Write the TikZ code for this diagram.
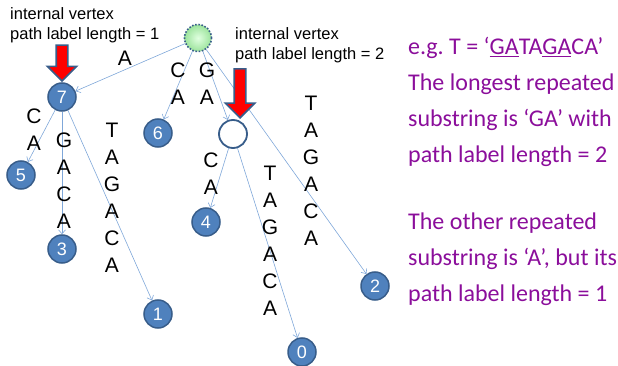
\documentclass[tikz,border=0pt]{standalone}
\usepackage{fontspec}
\setmainfont{Liberation Sans}
\newfontfamily\calibri{Carlito}
\usetikzlibrary{arrows.meta,shapes.arrows,positioning}
\definecolor{leafblue}{HTML}{4F81BD}
\definecolor{leafedge}{HTML}{385D8A}
\definecolor{edgeblue}{HTML}{7FA7D9}
\definecolor{notepurple}{HTML}{8B0E9B}
\definecolor{rootgreen}{HTML}{9BE39B}

\tikzset{
  leaf/.style={circle, fill=leafblue, draw=leafedge, line width=1.5pt,
    minimum size=28pt, inner sep=0pt, text=white, font=\fontsize{18}{18}\selectfont},
  inner vertex/.style={circle, fill=white, draw=leafedge, line width=1.8pt,
    minimum size=28pt, inner sep=0pt},
  root vertex/.style={circle, inner color=green!12, outer color=rootgreen,
    draw=leafedge, line width=1.6pt, dash pattern=on 1.6pt off 1.6pt,
    minimum size=27pt, inner sep=0pt},
  tree edge/.style={draw=edgeblue, line width=0.6pt,
    -{Straight Barb[length=4pt,width=7pt]}},
  letters/.style={align=center, inner sep=0pt, font=\fontsize{21}{27}\selectfont},
  pointer/.style={single arrow, fill=red, draw=leafedge, line width=1.6pt,
    inner sep=5pt, single arrow head extend=9pt, rotate=-90, anchor=tip},
  note/.style={align=left, anchor=west, inner sep=0pt, font=\fontsize{16.5}{20}\selectfont},
  remark/.style={align=left, anchor=north west, inner sep=0pt, text=notepurple,
    font=\calibri\fontsize{24}{36}\selectfont}
}

\begin{document}
\begin{tikzpicture}[x=1pt, y=-1pt]
\useasboundingbox (0,0) rectangle (618,366);

% vertices
\node[root vertex] (root) at (198,38) {};
\node[leaf] (v7) at (62,97) {7};
\node[leaf] (v5) at (21,175) {5};
\node[leaf] (v3) at (62,249) {3};
\node[leaf] (v1) at (158,314) {1};
\node[leaf] (v6) at (158,133) {6};
\node[inner vertex] (vGA) at (233,134) {};
\node[leaf] (v4) at (206,222) {4};
\node[leaf] (v0) at (302,352) {0};
\node[leaf] (v2) at (375,286) {2};

% edges
\draw[tree edge] (root) -- (v7);
\draw[tree edge] (root) -- (v6);
\draw[tree edge] (root) -- (vGA);
\draw[tree edge] (root) -- (v2);
\draw[tree edge] (v7) -- (v5);
\draw[tree edge] (v7) -- (v3);
\draw[tree edge] (v7) -- (v1);
\draw[tree edge] (vGA) -- (v4);
\draw[tree edge] (vGA) -- (v0);

% edge labels
\node[letters] (lA) at (125,58) {A};
\node[letters] (lCA) at (178,84) {C\\A};
\node[letters] (lGA) at (207,84) {G\\A};
\node[letters] (l7CA) at (34,130) {C\\A};
\node[letters] (l7GACA) at (64,181) {G\\A\\C\\A};
\node[letters] (l7rest) at (112,198) {T\\A\\G\\A\\C\\A};
\node[letters] (lGACA) at (211,174) {C\\A};
\node[letters] (lGArest) at (270,241) {T\\A\\G\\A\\C\\A};
\node[letters] (lrest) at (311,171) {T\\A\\G\\A\\C\\A};

% pointers to the internal vertices
\node[pointer, minimum height=36pt] (p7) at (v7.north) {};
\node[pointer, minimum height=49pt] (pGA) at (240,119) {};
\node[note] (n7) at (10,25) {internal vertex\\path label length = 1};
\node[note] (nGA) at (235,45) {internal vertex\\path label length = 2};

% remarks
\node[remark] (r1) at (408,37) {e.g.\ T = \textquoteleft\underline{GA}TA\underline{GA}CA\textquoteright\\
  The longest repeated\\substring is \textquoteleft GA\textquoteright{} with\\path label length = 2};
\node[remark] (r2) at (408,213) {The other repeated\\substring is \textquoteleft A\textquoteright, but its\\path label length = 1};
\end{tikzpicture}
\end{document}
